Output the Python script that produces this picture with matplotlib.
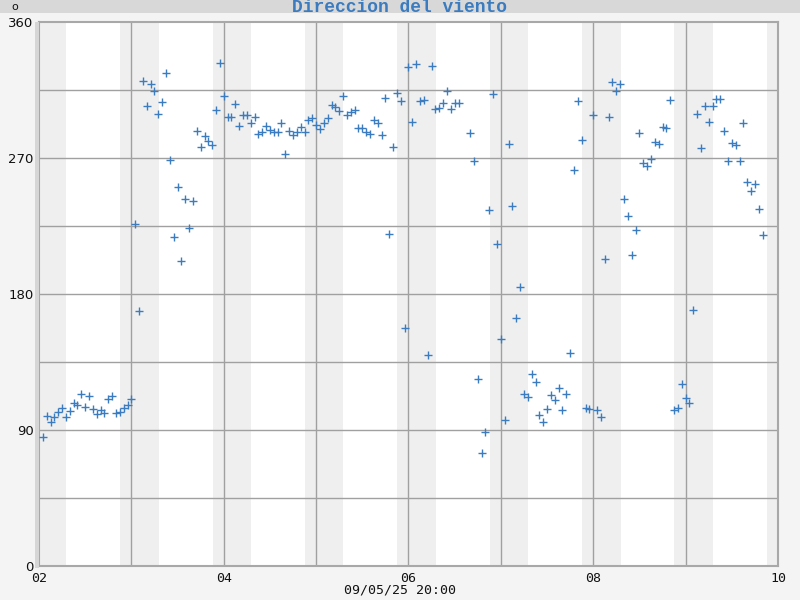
import matplotlib
matplotlib.use("Agg")
import matplotlib.pyplot as plt
from matplotlib.patches import Rectangle

# ---- data (hours since 02 00:00, wind direction in degrees) ----
hours = list(range(1, 110)) + list(range(112, 189))
direction = [
    85.2, 99.3, 95.1, 98.4, 102.1, 104.8, 98.8, 102.4, 108.1, 106.3,
    113.8, 105.2, 112.7, 104.1, 100.6, 103.0, 101.2, 110.5, 112.7, 101.0,
    101.9, 104.4, 106.7, 110.5,
    226.1, 168.5, 321.2, 304.4, 319.0, 314.5, 298.9, 306.9, 326.2, 268.7,
    217.5, 250.6, 201.6, 242.7, 223.7, 241.5, 287.9, 277.3, 284.6, 281.3,
    278.6, 301.8, 332.9, 310.8,
    297.1, 297.1, 305.7, 291.2, 298.2, 298.2, 293.0, 297.1, 285.9, 287.0,
    291.2, 288.5, 287.0, 287.0, 293.0, 272.4, 287.9, 285.0, 287.0, 290.7,
    287.4, 294.9, 296.5, 291.6,
    289.0, 293.0, 296.5, 305.1, 304.0, 301.1, 311.0, 298.2, 300.6, 301.8,
    289.9, 289.9, 287.4, 285.7, 294.9, 293.0, 285.0, 309.5, 219.5, 277.3,
    312.8, 307.7, 157.3, 330.0,
    293.8, 332.2, 307.7, 308.2, 139.4, 330.7, 302.4, 302.9, 306.2, 314.3,
    302.4, 306.2, 306.2,
    286.3, 267.8, 123.7, 74.6, 88.5, 235.4, 312.1, 212.9, 150.0, 96.4,
    279.1, 238.0, 163.9, 184.4, 114.0, 111.8, 127.1, 121.8, 99.7, 95.1,
    103.9, 113.2, 109.7, 117.8, 103.0, 113.6, 140.8, 261.9, 307.5, 281.7,
    104.6, 103.9, 298.2, 103.4, 98.6, 203.2, 297.1, 320.3, 314.5, 318.8,
    242.7, 231.4, 205.6, 222.2, 286.3, 266.9, 264.5, 269.1, 280.6, 279.1,
    290.7, 289.6, 308.4, 103.0, 104.6, 120.2, 111.2, 107.7, 169.2, 298.9,
    276.4, 304.2, 293.6, 304.2, 308.8, 309.2, 287.6, 267.8, 279.7, 278.4,
    267.8, 293.0, 253.9, 247.9, 252.6, 236.1, 218.8,
]
x_tick_labels = ["02", "04", "06", "08", "10"]
y_ticks = [0, 90, 180, 270, 360]
title = "Direccion del viento"
x_label = "09/05/25 20:00"
n_days = 8
dusk_hour, dawn_hour = 21.1, 7.1

# ---- figure ----
fig = plt.figure(figsize=(8, 6), dpi=100, facecolor="#f4f4f4")
W, H = 800, 600
ax = fig.add_axes([39 / W, 1 - 566 / H, (778 - 39) / W, (566 - 22) / H])
ax.set_facecolor("white")

# title bar
fig.patches.append(Rectangle((0, 1 - 13 / H), 1, 13 / H, transform=fig.transFigure,
                             facecolor="#d8d8d8", edgecolor="none", zorder=0))
fig.patches.append(Rectangle((35 / W, 1 - 568 / H), 4 / W, (568 - 22) / H,
                             transform=fig.transFigure, facecolor="#d6d6d6",
                             edgecolor="none", zorder=0))
fig.text(0.5, 1 - 8 / H, title, ha="center", va="center", fontsize=13,
         family="Liberation Mono", fontweight="bold", color="#3b7bbf")
fig.text(15 / W, 1 - 6.5 / H, "o", ha="center", va="center", fontsize=8,
         family="DejaVu Sans", color="#111111")
fig.text(400 / W, 1 - 590 / H, x_label, ha="center", va="center", fontsize=9.5,
         family="DejaVu Sans Mono", color="#111111")

# night bands
ax.axvspan(0, dawn_hour, color="#efefef", lw=0, zorder=0)
for d in range(n_days):
    ax.axvspan(d * 24 + dusk_hour, min(d * 24 + 24 + dawn_hour, n_days * 24),
               color="#efefef", lw=0, zorder=0)

# grid
for g in range(45, 360, 45):
    ax.axhline(g, color="#a0a0a0", lw=1, zorder=1)
for d in range(1, n_days):
    ax.axvline(d * 24, color="#a0a0a0", lw=1, zorder=1)

ax.plot(hours, direction, linestyle="none", marker="+", markersize=6,
        markeredgewidth=1.0, color="#3b7bbf", zorder=3)

ax.set_xlim(0, n_days * 24)
ax.set_ylim(0, 360)
ax.set_xticks([0, 48, 96, 144, 192])
ax.set_xticklabels(x_tick_labels, family="DejaVu Sans Mono", fontsize=9.5)
ax.set_yticks(y_ticks)
ax.set_yticklabels([str(v) for v in y_ticks], fontsize=9.5, family="DejaVu Sans")
ax.tick_params(length=0, colors="#111111")
ax.tick_params(axis="x", pad=4)
ax.tick_params(axis="y", pad=4)
for s in ax.spines.values():
    s.set_color("#a8a8a8")
    s.set_linewidth(1.5)

fig.savefig("out.png", dpi=100, facecolor=fig.get_facecolor())
